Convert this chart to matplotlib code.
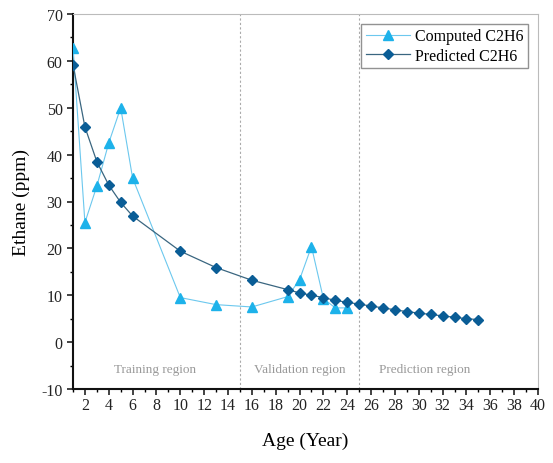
import matplotlib
matplotlib.use("Agg")
import matplotlib.pyplot as plt
from matplotlib.ticker import MultipleLocator

plt.rcParams['font.family'] = ['Liberation Serif', 'DejaVu Serif']
plt.rcParams['axes.unicode_minus'] = False

# Computed C2H6 (triangles)
comp_age = [1, 2, 3, 4, 5, 6, 10, 13, 16, 19, 20, 21, 22, 23, 24]
comp_val = [62.8, 25.5, 33.3, 42.5, 50.0, 35.0, 9.5, 8.0, 7.5, 9.7, 13.3, 20.4, 9.3, 7.3, 7.3]

# Predicted C2H6 (diamonds)
pred_age = [1, 2, 3, 4, 5, 6, 10, 13, 16, 19, 20, 21, 22, 23, 24, 25, 26, 27, 28,
            29, 30, 31, 32, 33, 34, 35]
pred_val = [59.2, 45.9, 38.5, 33.5, 29.8, 26.9, 19.4, 15.9, 13.2, 11.2, 10.5, 10.0,
            9.5, 8.9, 8.5, 8.1, 7.7, 7.3, 6.9, 6.5, 6.2, 5.9, 5.6, 5.3, 5.0, 4.8]

regions = ["Training region", "Validation region", "Prediction region"]
region_x = [7.9, 20.0, 30.5]
boundaries = [15, 25]

fig = plt.figure(figsize=(5.53, 4.64), dpi=100)
ax = fig.add_axes([73/553, 74/464, (538-73)/553, (390-15)/464])

ax.plot(comp_age, comp_val, color='#6cc8ee', lw=0.8, marker='^', ms=6.5,
        mfc='#1db2ea', mec='#1db2ea', label='Computed C2H6', zorder=3)
ax.plot(pred_age, pred_val, color='#3a6680', lw=0.9, marker='D', ms=5.5,
        mfc='#0a5d96', mec='#0a5d96', label='Predicted C2H6', zorder=4)

for b in boundaries:
    ax.axvline(b, color='#aaaaaa', lw=0.8, ls=(0, (2, 2)), zorder=1)

for t, x in zip(regions, region_x):
    ax.text(x, -5.8, t, ha='center', va='center', color='#999999', fontsize=9.5)

ax.set_xlim(1, 40)
ax.set_ylim(-10, 70)
ax.xaxis.set_major_locator(MultipleLocator(2))
ax.xaxis.set_minor_locator(MultipleLocator(1))
ax.yaxis.set_major_locator(MultipleLocator(10))
ax.yaxis.set_minor_locator(MultipleLocator(5))
ax.set_xticks(range(2, 41, 2))

ax.tick_params(axis='both', which='major', direction='out', length=4, width=1.2,
               labelsize=11.5, colors='#222222', top=False, right=False)
ax.tick_params(axis='both', which='minor', direction='out', length=2.5, width=1.0,
               top=False, right=False)
ax.tick_params(axis='x', pad=2)

for s in ['left', 'bottom']:
    ax.spines[s].set_linewidth(1.5)
    ax.spines[s].set_color('#111111')
for s in ['top', 'right']:
    ax.spines[s].set_linewidth(0.8)
    ax.spines[s].set_color('#bbbbbb')

ax.set_xlabel('Age (Year)', fontsize=14, labelpad=13)
ax.set_ylabel('Ethane (ppm)', fontsize=14, labelpad=8)

leg = ax.legend(loc='upper right', fontsize=11.5, frameon=True, fancybox=False,
                edgecolor='#777777', borderpad=0.3, handlelength=2.8,
                handletextpad=0.3, labelspacing=0.2, borderaxespad=0.6)
leg.get_frame().set_linewidth(1.0)

fig.savefig('out.png', dpi=100)
